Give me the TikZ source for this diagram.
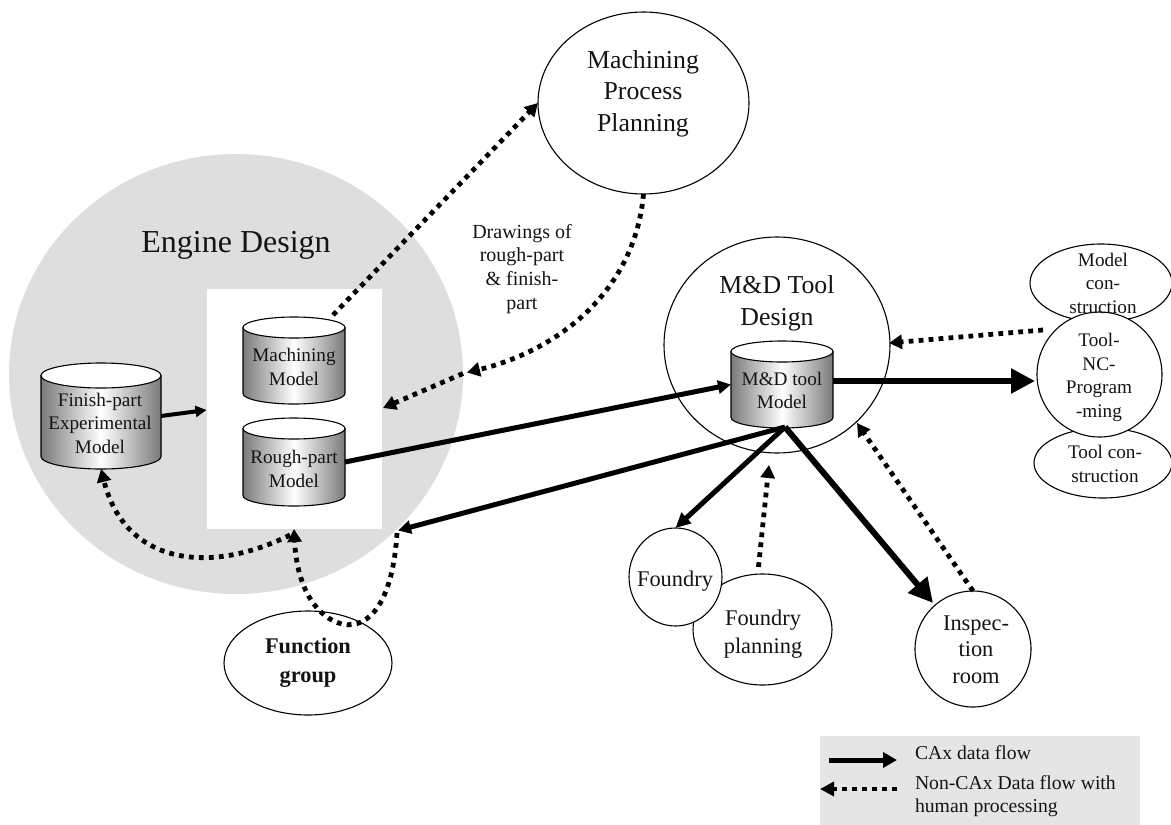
\documentclass[tikz,border=0pt]{standalone}
\usepackage{fontspec}
\setmainfont{Liberation Serif}
\usetikzlibrary{shapes.geometric,arrows.meta}
\definecolor{enginegray}{HTML}{DEDEDE}
\definecolor{legendgray}{HTML}{E5E5E5}
\definecolor{cylgray}{HTML}{7A7A7A}
\definecolor{ink}{HTML}{141414}
\tikzset{
  blob/.style={ellipse,draw=black,fill=white,line width=1.1pt,inner sep=0pt,outer sep=0pt},
  lbl/.style={align=center,inner sep=0pt,outer sep=0pt,anchor=base,text=ink},
  sz/.style 2 args={font=\fontsize{#1}{#2}\selectfont},
  data/.style={-{Triangle[length=13pt,width=13pt]},line width=4pt,draw=black},
  heavy/.style={-{Triangle[length=24pt,width=24pt]},line width=5.5pt,draw=black},
  human/.style={-{Triangle[length=13pt,width=14pt]},line width=4.8pt,draw=black,dash pattern=on 4.8pt off 5.2pt},
}
% name, centre x, top y, width, total height, cap half-height
\newcommand{\dbcyl}[6]{%
  \pgfmathsetmacro{\cxx}{#2}\pgfmathsetmacro{\rxx}{#4/2}\pgfmathsetmacro{\ee}{#6}%
  \pgfmathsetmacro{\lx}{\cxx-\rxx}\pgfmathsetmacro{\rx}{\cxx+\rxx}%
  \pgfmathsetmacro{\ty}{#3+\ee}\pgfmathsetmacro{\by}{#3+#5-\ee}%
  \pgfmathsetmacro{\kx}{0.552*\rxx}\pgfmathsetmacro{\ky}{0.552*\ee}%
  \pgfmathsetmacro{\cy}{#3+#5/2}%
  \path[shade,left color=cylgray,right color=cylgray,middle color=white,draw=black,line width=1.1pt]
    (\lx,\ty) -- (\lx,\by)
    .. controls (\lx,\by+\ky) and (\cxx-\kx,\by+\ee) .. (\cxx,\by+\ee)
    .. controls (\cxx+\kx,\by+\ee) and (\rx,\by+\ky) .. (\rx,\by)
    -- (\rx,\ty) -- cycle;
  \node[ellipse,draw=black,fill=white,line width=1.1pt,inner sep=0pt,outer sep=0pt,minimum width=#4pt,minimum height=2*#6 pt] at (\cxx,\ty) {};
  \node[inner sep=0pt,outer sep=0pt,minimum width=#4pt,minimum height=#5pt] (#1) at (\cxx,\cy) {};
}
\begin{document}
\begin{tikzpicture}[x=1pt,y=-1pt]
\useasboundingbox (0,0) rectangle (1171,825);
% regions
\node[ellipse,fill=enginegray,inner sep=0pt,minimum width=454pt,minimum height=440pt] (engine) at (236,374) {};
\node[rectangle,fill=white,inner sep=0pt,outer sep=0pt,minimum width=175pt,minimum height=240pt] (cadbox) at (294.5,409) {};
\node[rectangle,fill=legendgray,inner sep=0pt,minimum width=320pt,minimum height=89pt] (legend) at (980,780.5) {};
% ellipses
\node[blob,minimum width=211pt,minimum height=182pt] (mpp) at (643.5,103) {};
\node[blob,minimum width=226pt,minimum height=216pt] (mdt) at (777,345) {};
\node[blob,minimum width=142pt,minimum height=78pt] (modelc) at (1101,283) {};
\node[blob,minimum width=138pt,minimum height=70pt] (toolc) at (1103,463) {};
\node[blob,minimum width=125pt,minimum height=125pt] (nc) at (1099.5,374.5) {};
\node[blob,minimum width=139pt,minimum height=111pt] (fplan) at (762.5,629.5) {};
\node[blob,minimum width=93pt,minimum height=98pt] (foundry) at (675.5,577) {};
\node[blob,minimum width=116pt,minimum height=116pt] (insp) at (973,649) {};
\node[blob,minimum width=168pt,minimum height=104pt] (func) at (308,663) {};
% cylinders
\dbcyl{machm}{294}{317}{102}{87}{10.5}
\dbcyl{roughm}{294}{418}{102}{88}{10.5}
\dbcyl{finishm}{101}{363}{120}{106}{12.5}
\dbcyl{mdm}{782}{341}{102}{87}{10.5}
% free ends
\coordinate (boxW) at (206.5,410);
\coordinate (boxE) at (383,408);
\coordinate (boxS) at (294,529);
\coordinate (gateL) at (290,535);
\coordinate (gateR) at (398,530.5);
\coordinate (gateRb) at (397,533);
\coordinate (midtip) at (467,372.5);
\coordinate (midout) at (463,373.5);
\coordinate (mdfoot) at (785,427);
\coordinate (mdE) at (833,381);
\coordinate (ncW) at (1035,381);
\coordinate (ncNW) at (1043,330);
\coordinate (mdtE) at (889,343);
\coordinate (insptip) at (933,603);
\coordinate (lg1a) at (829,760);
\coordinate (lg1b) at (897,760);
\coordinate (lg2a) at (897,789);
\coordinate (lg2b) at (820,789);
% CAx flows
\draw[data,line width=4pt,-{Triangle[length=11pt,width=11pt]}] (finishm.east) -- (boxW);
\draw[data,line width=5pt] (roughm.east) -- (mdm.west);
\draw[heavy] (mdE) -- (ncW);
\draw[data,line width=5pt] (mdfoot) -- (gateR);
\draw[data,line width=5pt,-{Triangle[length=15pt,width=14pt]}] (mdfoot) -- (foundry.north);
\draw[heavy,line width=6pt] (mdfoot) -- (insptip);
% non-CAx flows
\draw[human] (machm.north) ++(39,-2) -- (mpp.180);
\draw[human] (mpp.south) .. controls (635,290) and (560,350) .. (midtip);
\draw[human] (midout) -- (boxE);
\draw[human] (ncNW) -- (mdtE);
\draw[human] (fplan.north) ++(-4,-7) -- (769,465);
\draw[human] (insp.north) -- (857,423);
\draw[human] (gateL) .. controls (210,575) and (125,565) .. (finishm.south);
\draw[human] (gateRb) .. controls (393,600) and (370,630) .. (342,624) .. controls (318,618) and (297,590) .. (boxS);
% legend arrows
\draw[data,line width=5pt,-{Triangle[length=14pt,width=15pt]}] (lg1a) -- (lg1b);
\draw[human,-{Triangle[length=14pt,width=14pt]}] (lg2a) -- (lg2b);
% labels
\node[lbl,sz={32}{38}] (t1) at (236,252) {Engine Design};
\node[lbl,sz={25.8}{31.5}] (t2) at (643,131) {Machining\\Process\\Planning};
\node[lbl,sz={25.8}{32}] (t3) at (777,325) {M\&D Tool\\Design};
\node[lbl,sz={19.2}{23.5}] (t4) at (294,385) {Machining\\Model};
\node[lbl,sz={19.2}{24}] (t5) at (294,487) {Rough-part\\Model};
\node[lbl,sz={19.2}{23.5}] (t6) at (100,453) {Finish-part\\Experimental\\Model};
\node[lbl,sz={19.2}{23}] (t7) at (782,408) {M\&D tool\\Model};
\node[lbl,sz={19.2}{23.5}] (t8) at (1103,313) {Model\\con-\\struction};
\node[lbl,sz={19.2}{23.5}] (t9) at (1099,417) {Tool-\\NC-\\Program\\-ming};
\node[lbl,sz={19.2}{24}] (t10) at (1105,482) {Tool con-\\struction};
\node[lbl,sz={22.4}{27}] (t11) at (675,586) {Foundry};
\node[lbl,sz={22.4}{28}] (t12) at (763,653) {Foundry\\planning};
\node[lbl,sz={22.4}{26.5}] (t13) at (976,683) {Inspec-\\tion\\room};
\node[lbl,font=\fontsize{22.4}{29}\selectfont\bfseries] (t14) at (308,682) {Function\\group};
\node[lbl,sz={20}{23.6}] (t15) at (522,309) {Drawings of\\rough-part\\\& finish-\\part};
\node[lbl,sz={19.7}{23},anchor=base west] (t16) at (915,759) {CAx data flow};
\node[lbl,sz={19.7}{23},anchor=base west,align=left] (t17) at (915,812) {Non-CAx Data flow with\\human processing};
\end{tikzpicture}
\end{document}
